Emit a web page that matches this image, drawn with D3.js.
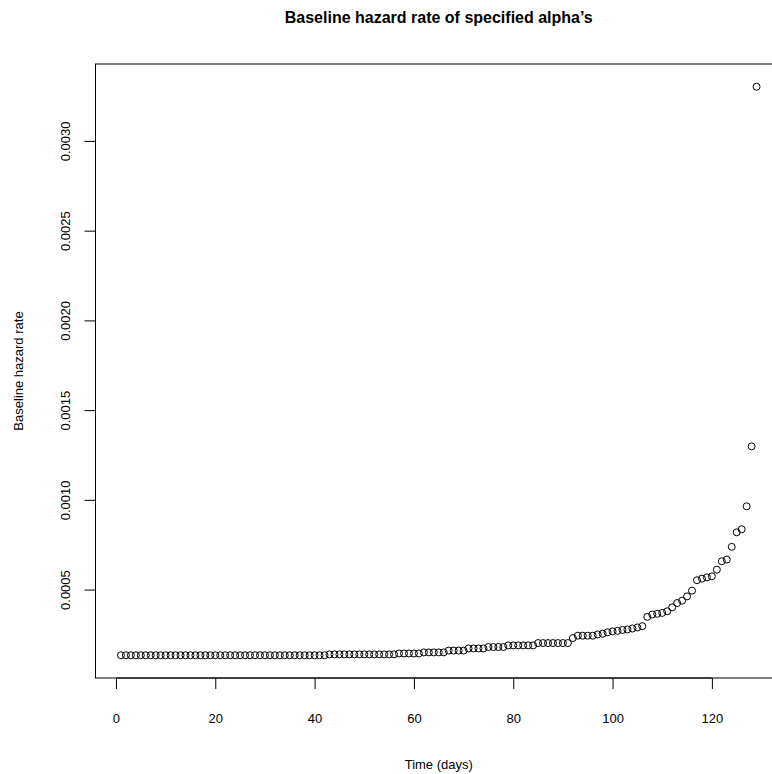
<!DOCTYPE html>
<html>
<head>
<meta charset="utf-8">
<script src="https://cdn.jsdelivr.net/npm/d3@7"></script>
<style>
  body { margin: 0; background: #fff; }
  text { font-family: "Liberation Sans", Arial, sans-serif; fill: #000; }
</style>
</head>
<body>
<script>
var width = 772;
var height = 774;

// plot region in pixels (right edge runs past the picture, as in the original)
var margin = {top: 64, bottom: 96, left: 95.5, right: -10};

var days = [
  1, 2, 3, 4, 5, 6, 7, 8, 9, 10, 11, 12, 13, 14, 15, 16, 17, 18, 19, 20,
  21, 22, 23, 24, 25, 26, 27, 28, 29, 30, 31, 32, 33, 34, 35, 36, 37, 38, 39, 40,
  41, 42, 43, 44, 45, 46, 47, 48, 49, 50, 51, 52, 53, 54, 55, 56, 57, 58, 59, 60,
  61, 62, 63, 64, 65, 66, 67, 68, 69, 70, 71, 72, 73, 74, 75, 76, 77, 78, 79, 80,
  81, 82, 83, 84, 85, 86, 87, 88, 89, 90, 91, 92, 93, 94, 95, 96, 97, 98, 99, 100,
  101, 102, 103, 104, 105, 106, 107, 108, 109, 110, 111, 112, 113, 114, 115, 116, 117, 118, 119, 120,
  121, 122, 123, 124, 125, 126, 127, 128, 129
];

var hazard = [
  // 1 - 42
  0.000134, 0.000134, 0.000134, 0.000134, 0.000134, 0.000134, 0.000134, 0.000134, 0.000134, 0.000134,
  0.000134, 0.000134, 0.000134, 0.000134, 0.000134, 0.000134, 0.000134, 0.000134, 0.000134, 0.000134,
  0.000134, 0.000134, 0.000134, 0.000134, 0.000134, 0.000134, 0.000134, 0.000134, 0.000134, 0.000134,
  0.000134, 0.000134, 0.000134, 0.000134, 0.000134, 0.000134, 0.000134, 0.000134, 0.000134, 0.000134,
  0.000134, 0.000134,
  // 43 - 56
  0.000139, 0.000139, 0.000139, 0.000139, 0.000139, 0.000139, 0.000139, 0.000139, 0.000139, 0.000139,
  0.000139, 0.000139, 0.000139, 0.000139,
  // 57 - 70
  0.000144, 0.000144, 0.000144, 0.000144, 0.000144,
  0.000150, 0.000150, 0.000150, 0.000150, 0.000150,
  0.000160, 0.000160, 0.000160, 0.000160,
  // 71 - 91
  0.000172, 0.000172, 0.000172, 0.000172,
  0.000180, 0.000180, 0.000180, 0.000180,
  0.000189, 0.000189, 0.000189, 0.000189, 0.000189, 0.000189,
  0.000202, 0.000202, 0.000202, 0.000202, 0.000202, 0.000202, 0.000202,
  // 92 - 106
  0.000230, 0.000243, 0.000243, 0.000243, 0.000243,
  0.000250, 0.000254, 0.000262, 0.000267, 0.000270,
  0.000275, 0.000278, 0.000283, 0.000289, 0.000296,
  // 107 - 116
  0.000348, 0.000361, 0.000365, 0.000370, 0.000379,
  0.000401, 0.000425, 0.000438, 0.000462, 0.000494,
  // 117 - 129
  0.000552, 0.000561, 0.000568, 0.000574, 0.000611,
  0.000658, 0.000667, 0.000738, 0.000819, 0.000836,
  0.000964, 0.001298, 0.003302
];

var xTicks = [0, 20, 40, 60, 80, 100, 120];
var yTicks = [0.0005, 0.0010, 0.0015, 0.0020, 0.0025, 0.0030];

var titleText = "Baseline hazard rate of specified alpha\u2019s";
var xLabel = "Time (days)";
var yLabel = "Baseline hazard rate";

var svg = d3.select("body").append("svg")
    .attr("width", width)
    .attr("height", height);

// R style: 4% padding around the data range
function padded(ext) {
    var r = ext[1] - ext[0];
    return [ext[0] - 0.04 * r, ext[1] + 0.04 * r];
}

var xScale = d3.scaleLinear()
    .domain(padded(d3.extent(days)))
    .range([margin.left, width - margin.right]);

var yScale = d3.scaleLinear()
    .domain(padded(d3.extent(hazard)))
    .range([height - margin.bottom, margin.top]);

// box
svg.append("rect")
    .attr("x", margin.left)
    .attr("y", margin.top)
    .attr("width", width - margin.right - margin.left)
    .attr("height", height - margin.bottom - margin.top)
    .attr("fill", "none")
    .attr("stroke", "#000")
    .attr("stroke-width", 1);

// x axis
var xAxis = d3.axisBottom(xScale)
    .tickValues(xTicks)
    .tickSize(11)
    .tickPadding(20)
    .tickSizeOuter(0);

var gx = svg.append("g")
    .attr("transform", "translate(0," + (height - margin.bottom) + ")")
    .call(xAxis);
gx.select(".domain")
    .attr("d", "M" + xScale(xTicks[0]) + ",0H" + xScale(xTicks[xTicks.length - 1]));
gx.selectAll("text")
    .attr("font-size", "13px")
    .attr("font-family", "Liberation Sans, Arial, sans-serif")
    .attr("dy", null)
    .attr("y", 45);

// y axis
var yAxis = d3.axisLeft(yScale)
    .tickValues(yTicks)
    .tickSize(11)
    .tickFormat(d3.format(".4f"))
    .tickSizeOuter(0);

var gy = svg.append("g")
    .attr("transform", "translate(" + margin.left + ",0)")
    .call(yAxis);
gy.select(".domain")
    .attr("d", "M0," + yScale(yTicks[0]) + "V" + yScale(yTicks[yTicks.length - 1]));
gy.selectAll("text")
    .attr("font-size", "13px")
    .attr("font-family", "Liberation Sans, Arial, sans-serif")
    .attr("x", null)
    .attr("dy", null)
    .attr("text-anchor", "middle")
    .attr("transform", "translate(-25.5,0) rotate(-90)");

gx.selectAll("line, path").attr("stroke", "#000");
gy.selectAll("line, path").attr("stroke", "#000");

// points
svg.selectAll("circle.pt")
    .data(days)
    .enter()
    .append("circle")
        .attr("class", "pt")
        .attr("cx", function(d){ return xScale(d); })
        .attr("cy", function(d, i){ return yScale(hazard[i]); })
        .attr("r", 3.5)
        .attr("fill", "none")
        .attr("stroke", "#000")
        .attr("stroke-width", 1);

// titles
svg.append("text")
    .attr("x", (margin.left + width - margin.right) / 2)
    .attr("y", 23)
    .attr("text-anchor", "middle")
    .attr("font-size", "16px")
    .attr("font-weight", "bold")
    .text(titleText);

svg.append("text")
    .attr("x", (margin.left + width - margin.right) / 2)
    .attr("y", 769)
    .attr("text-anchor", "middle")
    .attr("font-size", "13px")
    .text(xLabel);

svg.append("text")
    .attr("transform", "translate(23," + (margin.top + height - margin.bottom) / 2 + ") rotate(-90)")
    .attr("text-anchor", "middle")
    .attr("font-size", "13px")
    .text(yLabel);
</script>
</body>
</html>
